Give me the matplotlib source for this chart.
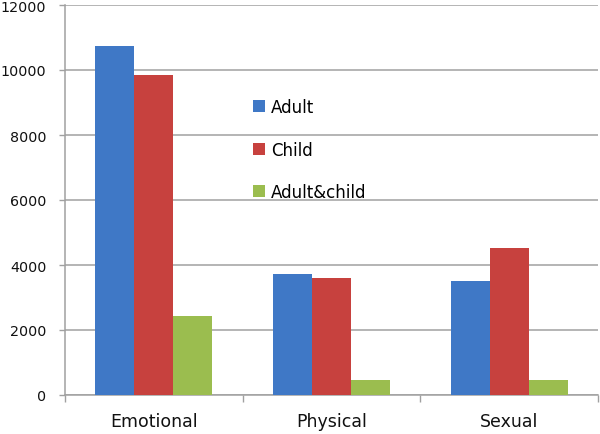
import matplotlib
matplotlib.use("Agg")
import matplotlib.pyplot as plt
import numpy as np

categories = ["Emotional", "Physical", "Sexual"]
series_names = ["Adult", "Child", "Adult&child"]
adult = [10750, 3720, 3520]
child = [9850, 3590, 4530]
adult_child = [2440, 470, 470]
y_ticks = [0, 2000, 4000, 6000, 8000, 10000, 12000]
colors = ["#3F78C6", "#C7413E", "#9BBD4F"]

fig = plt.figure(figsize=(6.0, 4.35), dpi=100)
ax = fig.add_axes([65/600, 1-396/435, (598-65)/600, (396-6)/435])

x = np.arange(len(categories))
w = 0.22
for i, (vals, name, c) in enumerate(zip([adult, child, adult_child], series_names, colors)):
    ax.bar(x + (i-1)*w, vals, width=w, color=c, label=name, zorder=3)

ax.set_xlim(-0.5, len(categories)-0.5)
ax.set_ylim(0, 12000)
ax.set_yticks(y_ticks)
ax.set_yticklabels([str(v) for v in y_ticks])
ax.yaxis.grid(True, color="#a0a0a0", linewidth=1.1, zorder=0)
ax.set_axisbelow(True)

ax.set_xticks([-0.5, 0.5, 1.5, 2.5])
ax.set_xticklabels([])
ax.set_xticks(x, minor=True)
ax.set_xticklabels(categories, minor=True)
ax.tick_params(axis="x", which="minor", length=0, pad=12.5, labelsize=12.5, labelcolor="#111111")
ax.tick_params(axis="x", which="major", length=5, width=1, color="#a0a0a0", direction="out")
ax.tick_params(axis="y", length=4.5, width=1, color="#a0a0a0", pad=9, labelsize=10.3, labelcolor="#111111")

for s in ["top", "right"]:
    ax.spines[s].set_visible(False)
for s in ["left", "bottom"]:
    ax.spines[s].set_color("#a0a0a0")
    ax.spines[s].set_linewidth(1.1)

leg = fig.legend(loc="upper left", bbox_to_anchor=(253/600, 1-99/435),
                 bbox_transform=fig.transFigure, frameon=False,
                 handlelength=0.7, handleheight=0.7, handletextpad=0.36,
                 labelspacing=1.47, borderpad=0, borderaxespad=0, fontsize=12)

fig.savefig("out.png", dpi=100)
